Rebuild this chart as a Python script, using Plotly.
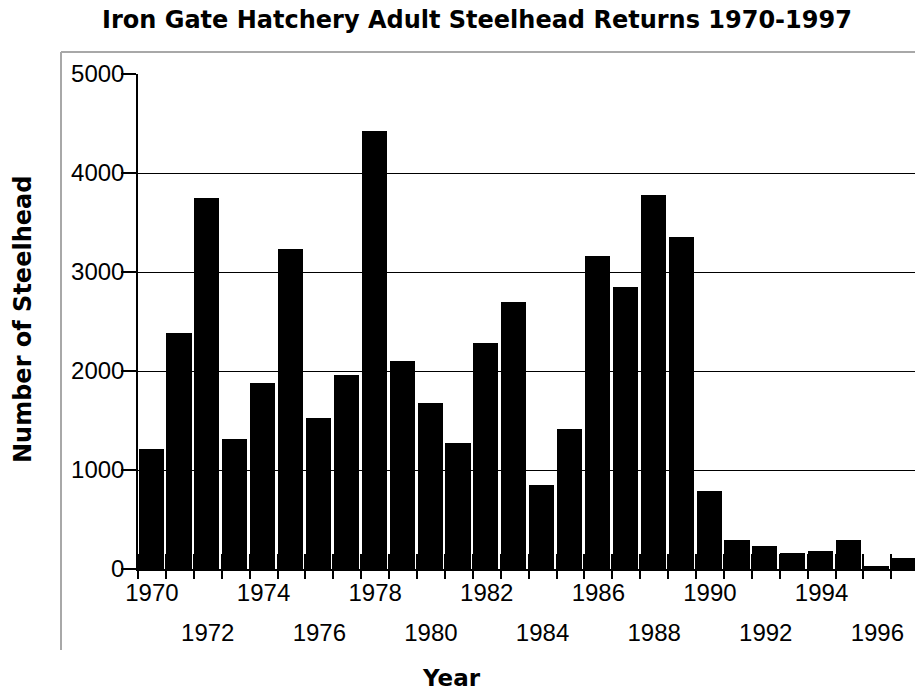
import plotly.graph_objects as go

# ---- data ----
years = [1970, 1971, 1972, 1973, 1974, 1975, 1976, 1977, 1978, 1979,
         1980, 1981, 1982, 1983, 1984, 1985, 1986, 1987, 1988, 1989,
         1990, 1991, 1992, 1993, 1994, 1995, 1996, 1997]
returns = [1210, 2380, 3750, 1310, 1880, 3230, 1530, 1960, 4425, 2100,
           1675, 1270, 2280, 2700, 845, 1410, 3165, 2845, 3775, 3350,
           785, 295, 235, 160, 180, 295, 35, 110]
row1_ticks = [1970, 1974, 1978, 1982, 1986, 1990, 1994]
row2_ticks = [1972, 1976, 1980, 1984, 1988, 1992, 1996]
y_ticks = [0, 1000, 2000, 3000, 4000, 5000]

title_text = "Iron Gate Hatchery Adult Steelhead Returns 1970-1997"
y_title = "Number of Steelhead"
x_title = "Year"

# ---- layout geometry ----
W, H = 915, 698
L, R, T, B = 138, 0, 74, 129
PW, PH = W - L - R, H - T - B

def px_x(p):
    return (p - L) / PW

def px_y(p):
    return (H - B - p) / PH

boundaries = [y - 0.5 for y in years] + [years[-1] + 0.5]
x_range = [years[0] - 0.5, years[0] - 0.5 + PW / 27.9]

tick_font = dict(family="Liberation Sans, Arial, sans-serif", size=24, color="black")
bold_font = dict(family="DejaVu Sans, sans-serif", size=24, color="black")

fig = go.Figure()
fig.add_trace(go.Bar(
    x=years, y=returns, width=0.9, offset=-0.48,
    marker=dict(color="black", line=dict(width=0)),
    showlegend=False, hoverinfo="x+y",
))
# invisible helper trace so the overlay axis (second label row) is drawn
fig.add_trace(go.Scatter(
    x=[years[0]], y=[0], xaxis="x2", mode="markers",
    marker=dict(opacity=0), showlegend=False, hoverinfo="skip",
))

fig.update_layout(
    width=W, height=H,
    margin=dict(l=L, r=R, t=T, b=B, pad=0),
    paper_bgcolor="white", plot_bgcolor="white",
    bargap=0,
    xaxis=dict(
        range=x_range, showline=True, linecolor="black", linewidth=1.5,
        showgrid=False, zeroline=False,
        tickmode="array", tickvals=row1_ticks, ticktext=[str(v) for v in row1_ticks],
        ticks="", tickfont=tick_font, ticklabelstandoff=1,
        minor=dict(tickmode="array", tickvals=boundaries, ticks="outside",
                   ticklen=8, tickwidth=1.5, tickcolor="black", showgrid=False),
        fixedrange=True,
    ),
    xaxis2=dict(
        range=x_range, overlaying="x", anchor="y", side="bottom",
        showline=False, showgrid=False, zeroline=False,
        tickmode="array", tickvals=row2_ticks, ticktext=[str(v) for v in row2_ticks],
        ticks="", tickfont=tick_font, ticklabelstandoff=47,
        minor=dict(tickmode="array", tickvals=boundaries, ticks="inside",
                   ticklen=15, tickwidth=1.5, tickcolor="black", showgrid=False),
        fixedrange=True,
    ),
    yaxis=dict(
        range=[0, 5000], tickmode="array", tickvals=y_ticks,
        ticks="outside", ticklen=15, tickwidth=1.5, tickcolor="black",
        showline=True, linecolor="black", linewidth=1.5,
        showgrid=True, gridcolor="black", gridwidth=1.2,
        zeroline=False, tickfont=tick_font, ticklabelstandoff=-8,
        fixedrange=True,
    ),
    shapes=[
        dict(type="line", xref="paper", yref="paper",
             x0=px_x(61), x1=px_x(61), y0=px_y(52), y1=px_y(650),
             line=dict(color="#a8a8a8", width=2)),
        dict(type="line", xref="paper", yref="paper",
             x0=px_x(61), x1=px_x(W + 5), y0=px_y(52), y1=px_y(52),
             line=dict(color="#a8a8a8", width=2)),
    ],
    annotations=[
        dict(text="<b>" + title_text + "</b>", xref="paper", yref="paper",
             x=px_x(477), y=px_y(20), xanchor="center", yanchor="middle",
             showarrow=False, font=bold_font),
        dict(text="<b>" + y_title + "</b>", xref="paper", yref="paper",
             x=px_x(23), y=px_y(320), xanchor="center", yanchor="middle",
             textangle=-90, showarrow=False, font=bold_font),
        dict(text="<b>" + x_title + "</b>", xref="paper", yref="paper",
             x=px_x(451), y=px_y(678), xanchor="center", yanchor="middle",
             showarrow=False, font=dict(family="DejaVu Sans, sans-serif", size=23, color="black")),
    ],
)

fig.write_html(
    "out.html",
    config={"displayModeBar": False},
    post_script="document.body.style.margin='0';document.body.style.overflow='hidden';",
)
